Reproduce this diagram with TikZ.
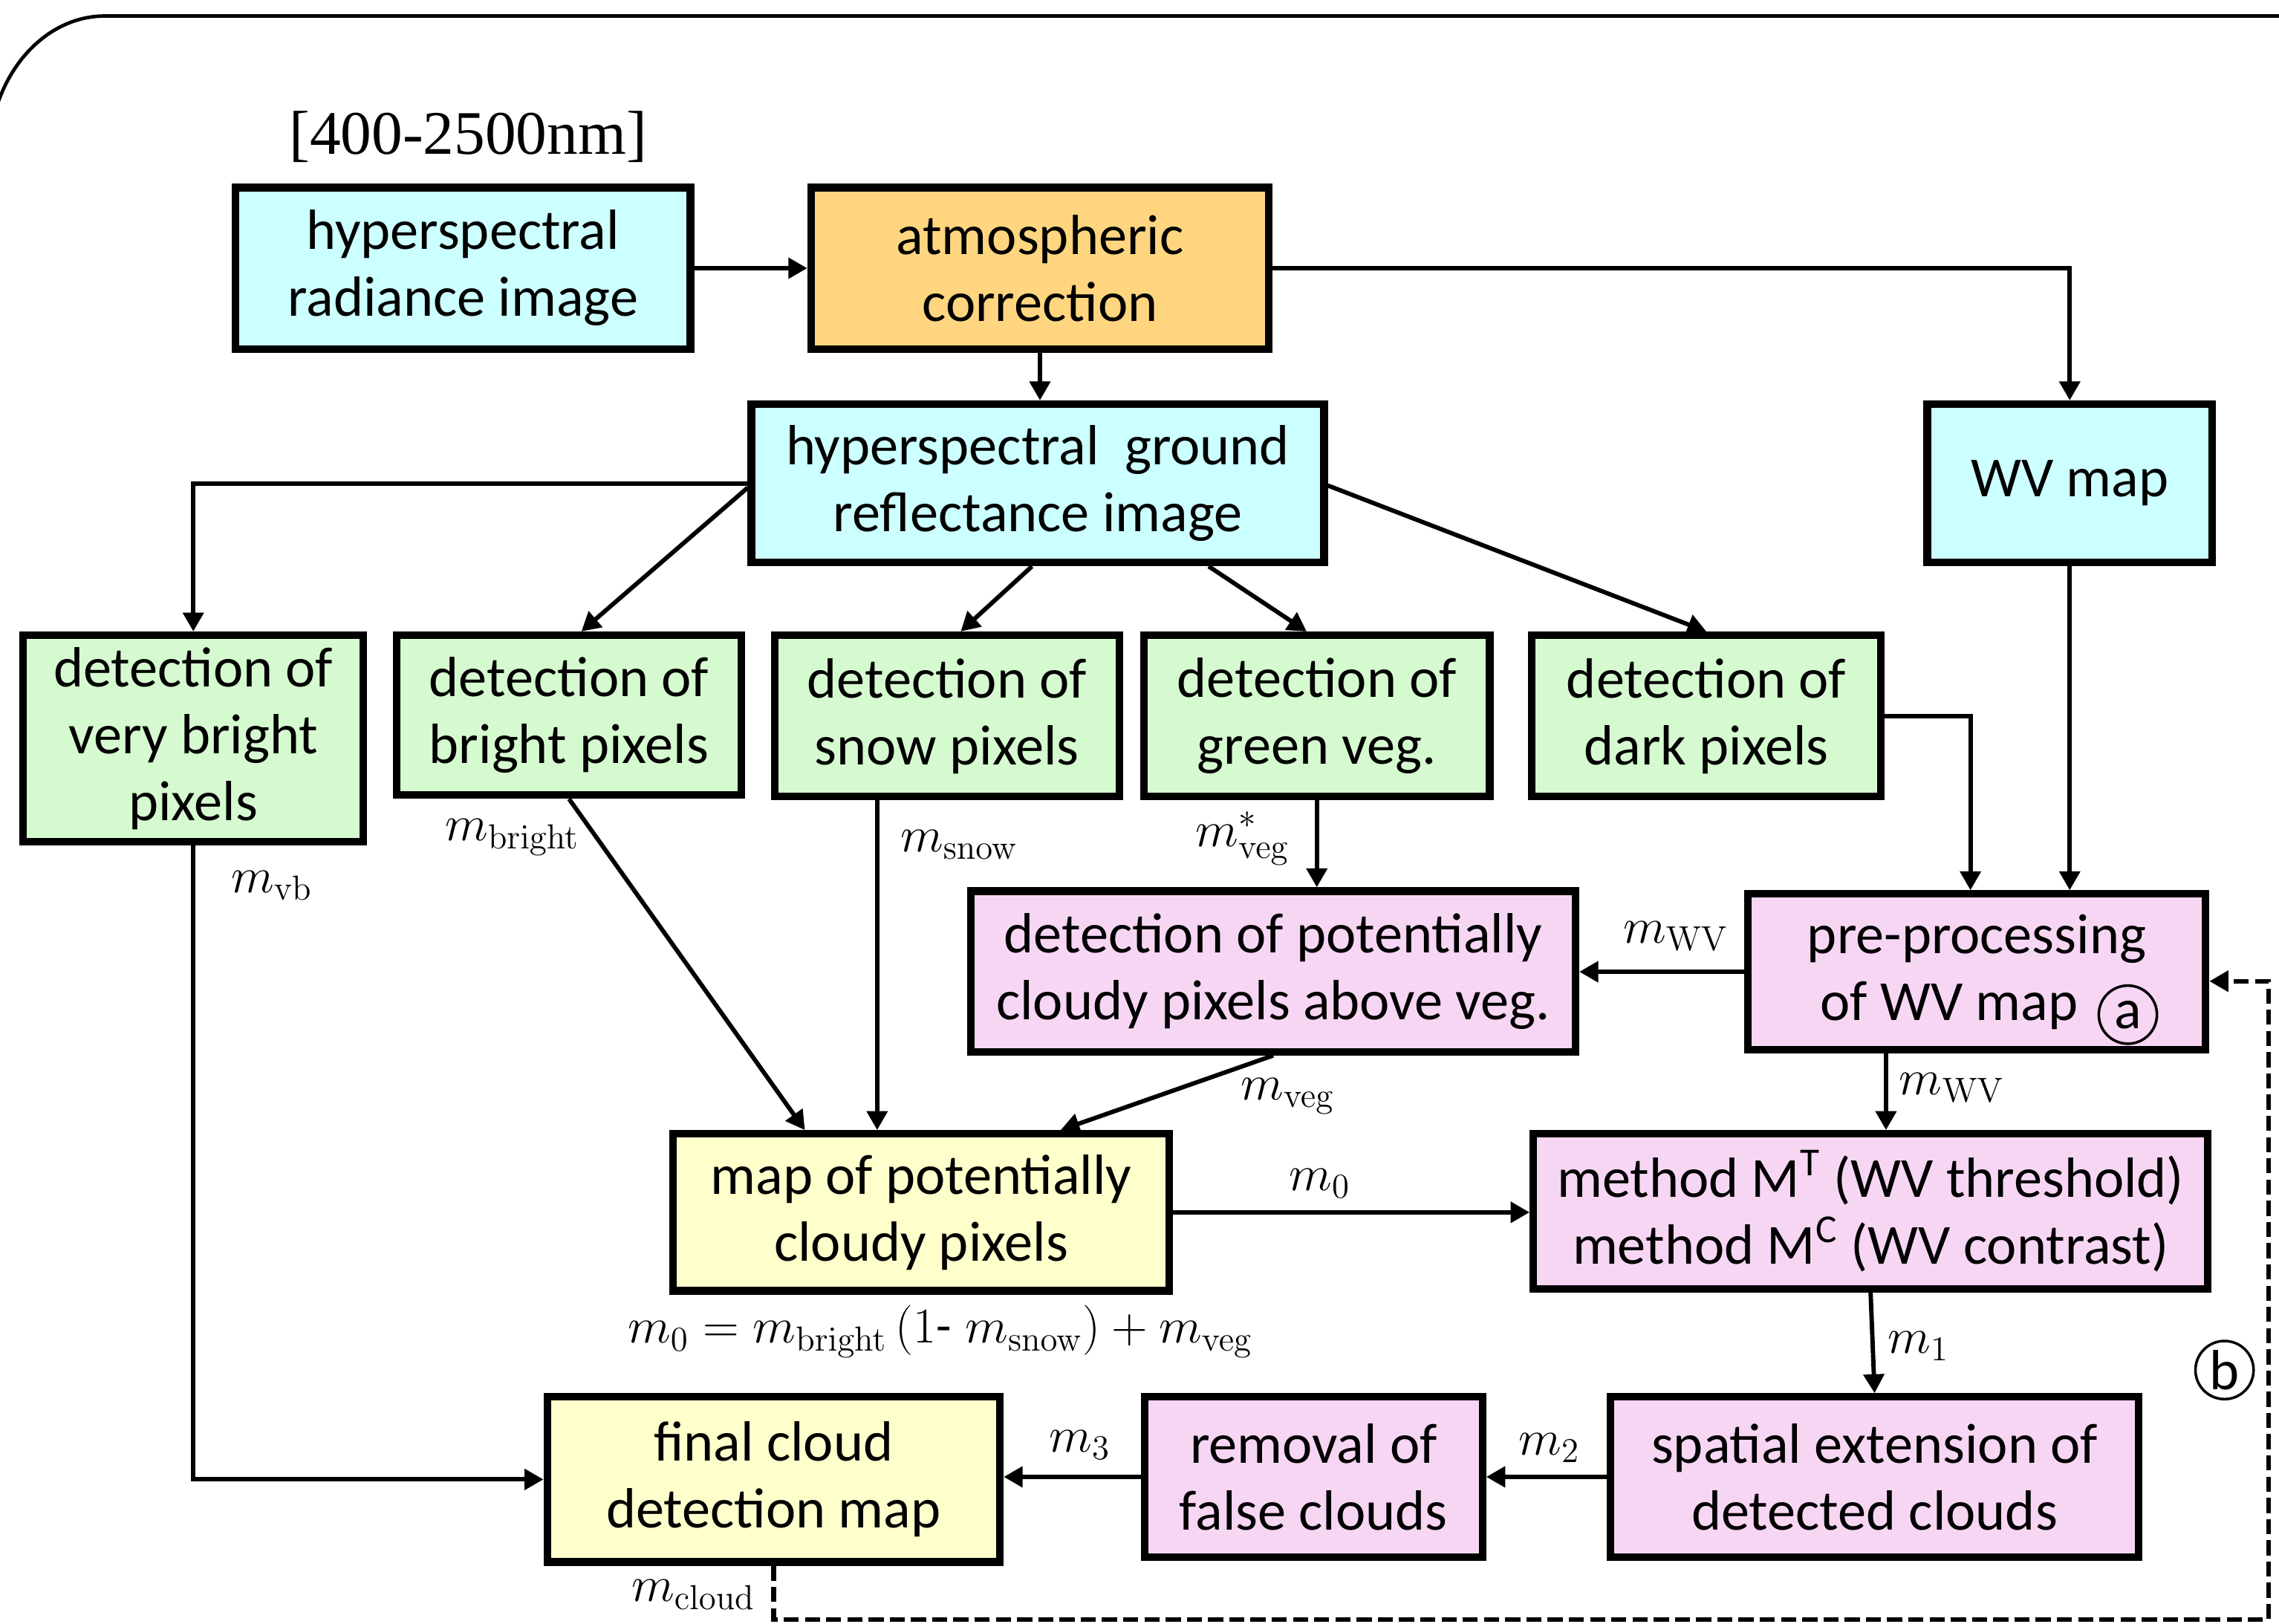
\documentclass[tikz,border=0pt]{standalone}
\usepackage[no-math]{fontspec}
\setmainfont{Carlito}
\newfontfamily\timesf{Liberation Serif}
\usetikzlibrary{arrows.meta,calc}
\definecolor{cya}{RGB}{204,255,255}
\definecolor{ora}{RGB}{255,214,127}
\definecolor{grn}{RGB}{214,250,208}
\definecolor{pnk}{RGB}{247,214,244}
\definecolor{ylw}{RGB}{255,255,204}
\tikzset{
  box/.style={draw, line width=2.6bp, inner sep=0pt, align=center,
    font=\fontsize{19.5bp}{23bp}\selectfont},
  sz/.style 2 args={minimum width=#1bp, minimum height=#2bp},
  conn/.style={line width=1.5bp, -{Triangle[length=6.5bp,width=7bp]}},
  dashconn/.style={line width=1.6bp, dash pattern=on 5.2bp off 2.1bp, -{Triangle[length=6.5bp,width=7bp]}},
  lab/.style={font=\fontsize{18bp}{21bp}\selectfont, inner sep=0pt},
  circ/.style={draw, circle, line width=0.9bp, minimum size=20bp, inner sep=0pt,
    font=\fontsize{19.5bp}{23bp}\selectfont}
}
\begin{document}
\begin{tikzpicture}[x=0.5bp, y=-0.5bp]
\useasboundingbox (0,0) rectangle (1568,1117);
% frame
\draw[line width=1.2bp] (1575,11) -- (72,11) arc[start angle=-90, end angle=-158, x radius=80, y radius=99];
\node[font=\timesf\fontsize{21.3bp}{25bp}\selectfont, inner sep=0pt] (title) at (322,94) {[400-2500nm]};
% boxes
\node[box, fill=cya, sz={156.5}{55.5}] (rad) at (318.5,184.5) {hyperspectral\\radiance image};
\node[box, fill=ora, sz={157.5}{55.5}] (atm) at (715.5,184.5) {atmospheric\\correction};
\node[box, fill=cya, sz={197}{54.5}] (ground) at (714,332.5) {hyperspectral\ \ ground\\reflectance image};
\node[box, fill=cya, sz={98}{54.5}] (wv) at (1424,332.5) {WV map};
\node[box, fill=grn, sz={117}{71}] (vb) at (133,508) {detection of\\very bright\\pixels};
\node[box, fill=grn, sz={118.5}{55}] (bright) at (391.5,492) {detection of\\bright pixels};
\node[box, fill=grn, sz={118.5}{55.5}] (snow) at (651.5,492.5) {detection of\\snow pixels};
\node[box, fill=grn, sz={119}{55.5}] (green) at (906,492.5) {detection of\\green veg.};
\node[box, fill=grn, sz={120}{55.5}] (dark) at (1174,492.5) {detection of\\dark pixels};
\node[box, fill=pnk, sz={208}{55.25}] (pveg) at (876,668.25) {detection of potentially\\cloudy pixels above veg.};
\node[box, fill=pnk, sz={157.5}{53.5}] (prep) at (1360,668.5) {pre-processing\\\rule{9bp}{0pt}of WV map\rule{28bp}{0pt}};
\node[box, fill=ylw, sz={170.75}{54}] (pot) at (633.75,834) {map of potentially\\cloudy pixels};
\node[box, fill=pnk, sz={232}{53.25}] (method) at (1287,833.25) {method M\textsuperscript{T} (WV threshold)\\method M\textsuperscript{C} (WV contrast)};
\node[box, fill=ylw, sz={155.75}{56.75}] (final) at (532.25,1017.75) {final cloud\\detection map};
\node[box, fill=pnk, sz={116.25}{55}] (removal) at (903.75,1016) {removal of\\false clouds};
\node[box, fill=pnk, sz={181.75}{55}] (spatial) at (1289.75,1016) {spatial extension of\\detected clouds};
\node[circ] (ca) at (1464,698) {a};
\node[circ] (cb) at (1530.5,942.5) {b};
% connectors
\draw[conn] (rad.east) -- (atm.west);
\draw[conn] (atm.east) -| (wv.north);
\draw[conn] (atm.south) -- (atm.south |- ground.north);
\draw[conn] (ground.west) -| (vb.north);
\draw[conn] ($(ground.west)+(0,3)$) -- ($(bright.north)+(8.5,0)$);
\draw[conn] ($(ground.south)+(-4,0)$) -- ($(snow.north)+(9.5,0)$);
\draw[conn] ($(ground.south)+(117.6,0)$) -- ($(green.north)+(-7,0)$);
\draw[conn] ($(ground.east)+(0,1.5)$) -- (dark.north);
\draw[conn] (wv.south) -- (wv.south |- prep.north);
\draw[conn] (dark.east) -| ($(prep.north)+(-4.3,0)$);
\draw[conn] (green.south) -- (green.south |- pveg.north);
\draw[conn] (prep.west) -- (prep.west -| pveg.east);
\coordinate (p1) at ($(prep.south)+(-62.4,0)$);
\draw[conn] (p1) -- (p1 |- method.north);
\draw[conn] (pveg.south) -- ($(pot.north)+(96,0)$);
\draw[conn] (bright.south) -- ($(pot.north)+(-80,0)$);
\coordinate (s1) at ($(snow.south)+(-48,0)$);
\draw[conn] (s1) -- (s1 |- pot.north);
\draw[conn] (pot.east) -- (pot.east -| method.west);
\draw[conn] (method.south) -- (spatial.north);
\draw[conn] (spatial.west) -- (spatial.west -| removal.east);
\draw[conn] (removal.west) -- (removal.west -| final.east);
\draw[conn] (vb.south) |- (final.west);
\coordinate (d1) at (1561,1114);
\coordinate (d2) at (1561,675);
\draw[dashconn] (final.south) |- (d1) -- (d2) -- (d2 -| prep.east);
% labels
\node[lab] (lvb) at (187,609) {$m_{\mathrm{vb}}$};
\node[lab, anchor=east] (lbright) at (399,576) {$m_{\mathrm{bright}}$};
\node[lab] (lsnow) at (660,581) {$m_{\mathrm{snow}}$};
\node[lab] (lvegs) at (855,577) {$m^{*}_{\mathrm{veg}}$};
\node[lab] (lwv1) at (1153,644) {$m_{\mathrm{WV}}$};
\node[lab] (lwv2) at (1343,748) {$m_{\mathrm{WV}}$};
\node[lab] (lveg) at (886,754) {$m_{\mathrm{veg}}$};
\node[lab] (lm0) at (908,814) {$m_0$};
\node[lab, font=\fontsize{17bp}{20bp}\selectfont] (formula) at (647,916) {$m_0 = m_{\mathrm{bright}}\,(1\mbox{-}\;m_{\mathrm{snow}}) + m_{\mathrm{veg}}$};
\node[lab] (lm1) at (1320,926) {$m_1$};
\node[lab] (lm2) at (1066,996) {$m_2$};
\node[lab] (lm3) at (743,994) {$m_3$};
\node[lab, anchor=east] (lcloud) at (520,1097) {$m_{\mathrm{cloud}}$};
\end{tikzpicture}
\end{document}
